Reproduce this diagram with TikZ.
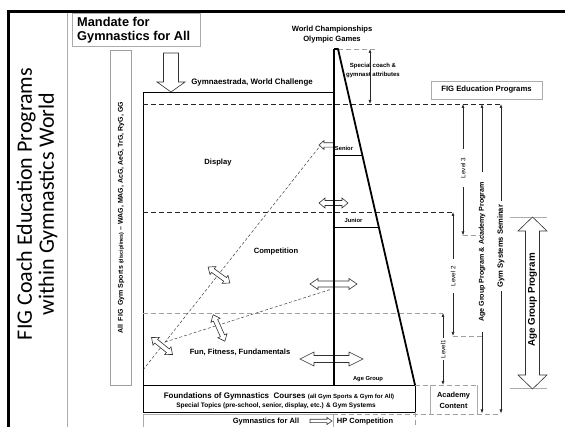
\documentclass[tikz,border=0pt]{standalone}
\usepackage{fontspec}
\setmainfont{Liberation Sans}
\newfontfamily\titlefont{Carlito}
\usetikzlibrary{arrows.meta}
\newcommand\dblarr[7]{\draw[hol, shift={(#1,#2)}, rotate=#3] (-#4,0) -- (-#4+#5,#6) -- (-#4+#5,#7) -- (#4-#5,#7) -- (#4-#5,#6) -- (#4,0) -- (#4-#5,-#6) -- (#4-#5,-#7) -- (-#4+#5,-#7) -- (-#4+#5,-#6) -- cycle;}
\newcommand\sarr[7]{\draw[hol, shift={(#1,#2)}, rotate=#3] (-#4,#7) -- (#4-#5,#7) -- (#4-#5,#6) -- (#4,0) -- (#4-#5,-#6) -- (#4-#5,-#7) -- (-#4,-#7) -- cycle;}
\begin{document}
\begin{tikzpicture}[x=1pt,y=-1pt,
  lbl/.style={font=\fontsize{7.6}{9.2}\selectfont\bfseries, inner sep=0pt, align=center},
  sml/.style={font=\fontsize{6}{8}\selectfont\bfseries, inner sep=0pt, align=center},
  lvl/.style={font=\fontsize{6.3}{7}\selectfont, rotate=90, inner ysep=0pt},
  grayl/.style={draw=gray!65, line width=0.6pt},
  dashk/.style={draw=black!85, line width=0.6pt, dash pattern=on 5pt off 3pt},
  dashg/.style={draw=gray!75, line width=0.6pt, dash pattern=on 5pt off 3pt},
  fined/.style={draw=black!80, line width=0.45pt, dash pattern=on 3pt off 2pt},
  hol/.style={draw=black!80, fill=white, line width=0.6pt, line join=miter},
  tip/.style={-{Latex[length=4pt,width=3pt]}},
  arr/.style={draw=black!85, line width=0.6pt, tip},
]
\useasboundingbox (0,0) rectangle (565,427);
% frame
\draw[line width=3pt] (8,427) -- (8,12) -- (565,12);
\draw[grayl] (67,13.5) -- (67,427);
\node[font=\titlefont\fontsize{22}{22}\selectfont, rotate=90, align=center, inner sep=0pt] (title) at (37,204) {FIG Coach Education Programs\\within Gymnastics World};
% mandate
\draw[grayl] (72,13.5) rectangle (200,46);
\node[font=\fontsize{12.8}{14}\selectfont\bfseries, anchor=west, align=left, inner sep=0pt] (mandate) at (77,30) {Mandate for\\Gymnastics for All};
% gym sports box
\draw[draw=gray!75, line width=0.8pt] (110,50) rectangle (131.5,385);
\node[font=\fontsize{7}{8}\selectfont\bfseries, rotate=90, inner sep=0pt] (gymsports) at (121,218) {All\ \ FIG\ \ Gym Sports {\fontsize{5.4}{6}\selectfont (disciplines)} – WAG, MAG, AcG, AeG, TrG, RyG, GG};
% mandate arrow
\sarr{171}{72.5}{-90}{19.5}{10}{14}{7.5}
% main box lines
\draw[line width=0.6pt] (143,412) -- (143,92) -- (334,92);
\draw[line width=0.8pt] (143,385) -- (415,385) -- (415,412) -- (143,412);
\draw[grayl] (143,427) -- (143,414) -- (333,414) -- (333,427);
\draw[dashg] (333,414) -- (501,414);
\draw[dashg] (415,412) -- (415,427);
% dashed levels
\draw[dashg] (338,49) -- (375,49);
\draw[dashk] (143,104) -- (501,104);
\draw[dashk] (143,212) -- (453,212);
\draw[dashg] (143,313) -- (443,313);
\draw[dashg] (415,385.5) -- (477,385.5);
% diagonal dashed lines
\draw[fined] (143,370) -- (320,146);
\draw[fined] (165,342) -- (332,289);
% hollow arrows
\sarr{326.5}{145}{180}{7.5}{5}{4.5}{2.2}
\dblarr{333.5}{203}{0}{14.5}{6}{5}{2.5}
\dblarr{333.5}{284}{0}{23.5}{8}{5.5}{3}
\dblarr{331.5}{359}{0}{31.5}{14}{7}{3.5}
\dblarr{162}{346}{-39}{13.5}{6}{5}{2.3}
\dblarr{219}{275}{-36}{13.5}{6}{5}{2.3}
\dblarr{219}{328}{-66}{14.5}{6}{5}{2.3}
\sarr{321}{421}{0}{11}{5}{3.5}{1.7}
% triangle
\draw[line width=2.5pt] (334,385) -- (334,49);
\draw[line width=1.8pt, line join=round] (334,49) -- (338,49) -- (415,385);
\draw[line width=0.7pt] (334,155) -- (362.3,155);
\draw[line width=0.7pt] (334,227) -- (378.8,227);
% labels
\node[lbl, font=\fontsize{7.9}{9}\selectfont\bfseries] (gymnae) at (252,82) {Gymnaestrada, World Challenge};
\node[lbl, font=\fontsize{7.6}{10.5}\selectfont\bfseries] (worldch) at (332,34.5) {World Championships\\Olympic Games};
\node[sml, font=\fontsize{6}{9}\selectfont\bfseries] (special) at (373,70.5) {Special coach \&\\gymnast attributes};
\coordinate (sctop) at (370,49);
\coordinate (scbot) at (370,104);
\draw[arr, {Latex[length=4pt,width=3pt]}-{Latex[length=4pt,width=3pt]}] (sctop) -- (scbot);
\node[lbl] (display) at (218,163) {Display};
\node[lbl] (competition) at (276,252) {Competition};
\node[lbl] (fun) at (240,352) {Fun, Fitness, Fundamentals};
\node[sml, font=\fontsize{5.8}{7}\selectfont\bfseries] (senior) at (344,148) {Senior};
\node[sml, font=\fontsize{5.8}{7}\selectfont\bfseries] (junior) at (353.5,220) {Junior};
\node[sml, font=\fontsize{5.8}{7}\selectfont\bfseries] (agegroup) at (368,379) {Age Group};
\node[lbl, font=\fontsize{8}{9}\selectfont\bfseries] (found1) at (279,396) {Foundations of Gymnastics\ \ Courses {\fontsize{6}{7}\selectfont (all Gym Sports \& Gym for All)}};
\node[lbl, font=\fontsize{6.5}{7}\selectfont\bfseries] (found2) at (276,405.5) {Special Topics (pre-school, senior, display, etc.) \& Gym Systems};
\node[lbl, font=\fontsize{7.5}{9}\selectfont\bfseries] (gfa) at (266,422) {Gymnastics for All};
\node[lbl, font=\fontsize{7.5}{9}\selectfont\bfseries] (hp) at (365,422) {HP Competition};
% FIG education
\draw[grayl] (431,81) rectangle (542,99);
\node[lbl, font=\fontsize{7.7}{9}\selectfont\bfseries] (figedu) at (486.5,90) {FIG Education Programs};
% academy
\draw[grayl] (430,385.5) -- (430,414);
\draw[grayl] (477,385.5) -- (477,414);
\node[lbl, font=\fontsize{7.4}{11}\selectfont\bfseries] (academy) at (453.5,400) {Academy\\Content};
% level arrows
\coordinate (l3top) at (463,104);
\coordinate (l3bot) at (463,235.5);
\node[lvl, inner xsep=9pt] (lv3) at (463,168) {Level 3};
\draw[arr] (lv3.east) -- (l3top);
\draw[arr] (lv3.west) -- (l3bot);
\coordinate (l2top) at (453,212);
\coordinate (l2bot) at (453,336);
\node[lvl, inner xsep=7pt] (lv2) at (453,276) {Level 2};
\draw[arr] (lv2.east) -- (l2top);
\draw[arr] (lv2.west) -- (l2bot);
\coordinate (l1top) at (443,313);
\coordinate (l1bot) at (443,385);
\node[lvl, inner xsep=2pt] (lv1) at (443,349) {Level1};
\draw[arr] (lv1.east) -- (l1top);
\draw[arr] (lv1.west) -- (l1bot);
\draw[dashg] (l3bot) -- (482,235.5);
\draw[dashg] (l2bot) -- (482,336);
\coordinate (agtop) at (482,104);
\coordinate (agbot) at (482,413.5);
\node[font=\fontsize{7.1}{8}\selectfont\bfseries, rotate=90, inner xsep=10pt, inner ysep=0pt] (agp) at (482,252) {Age Group Program \& Academy Program};
\draw[arr] (agp.east) -- (agtop);
\draw[arr] (agp.west) -- (agbot);
\coordinate (gstop) at (501,104);
\coordinate (gsbot) at (501,413.5);
\node[font=\fontsize{7.6}{8}\selectfont\bfseries, rotate=90, inner xsep=4pt, inner ysep=0pt] (gss) at (501,246) {Gym Systems Seminar};
\draw[arr] (gss.east) -- (gstop);
\draw[arr] (gss.west) -- (gsbot);
% big age group arrow
\draw[grayl] (510,217) -- (547,217);
\draw[grayl] (510,388.5) -- (547,388.5);
\dblarr{532.5}{303}{90}{86}{14}{14.5}{7}
\node[font=\fontsize{9.8}{11}\selectfont\bfseries, rotate=90, inner sep=0pt] (agebig) at (532.5,300) {Age Group Program};
\end{tikzpicture}
\end{document}
